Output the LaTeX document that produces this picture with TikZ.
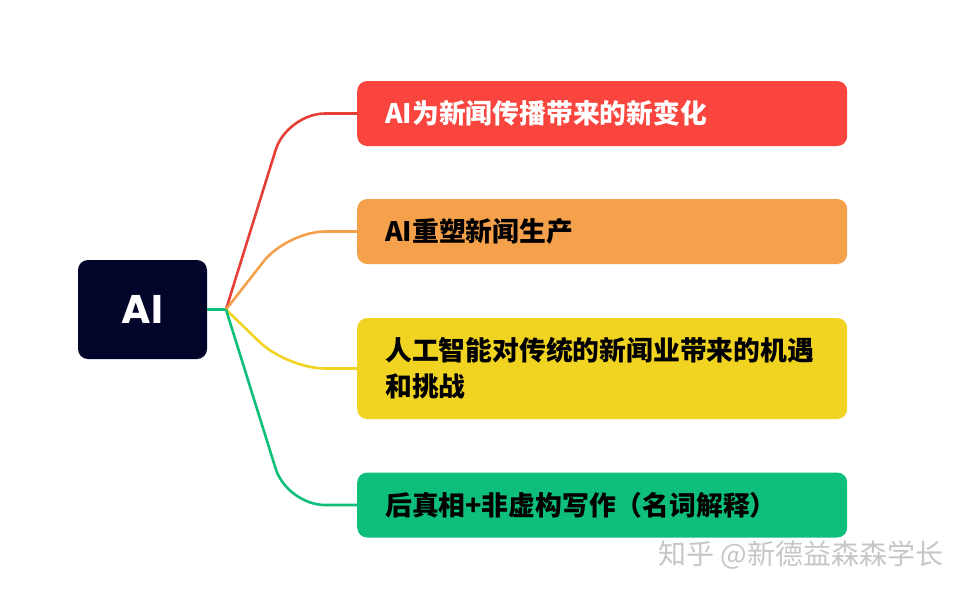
\documentclass[tikz,border=0pt]{standalone}
\usepackage{fontspec}
\newfontfamily\cjk{Noto Sans CJK SC}
\newfontfamily\rootfont{Poppins}
\usetikzlibrary{positioning}

\definecolor{rootbg}{HTML}{03042A}
\definecolor{redbox}{HTML}{F9453D}
\definecolor{orangebox}{HTML}{F5A04B}
\definecolor{yellowbox}{HTML}{F1D321}
\definecolor{greenbox}{HTML}{0DBF7A}

\begin{document}
\begin{tikzpicture}[x=1pt,y=-1pt,
    topic/.style={rounded corners=10pt, minimum width=490pt, minimum height=65pt,
      inner xsep=28pt, text width=434pt, align=left, anchor=west,
      font=\cjk\bfseries\fontsize{26.8}{36}\selectfont},
    branch/.style={line width=2.6pt, rounded corners=38pt}]

        \useasboundingbox (0,0) rectangle (973,595);

        % Central topic and the point where the branches split
        \node[fill=rootbg, rounded corners=10pt, minimum width=129pt, minimum height=99pt,
          text=white, font=\rootfont\bfseries\fontsize{40}{40}\selectfont] (root) at (142.5,309.5) {AI};
        \coordinate (hub) at (226,309.5);

        % Draw the four sub topics
        \node[topic, fill=redbox, text=white] (news) at (357,113.5) {AI为新闻传播带来的新变化};
        \node[topic, fill=orangebox] (prod) at (357,231.5) {AI重塑新闻生产};
        \node[topic, fill=yellowbox, minimum height=101pt] (chance) at (357,368.5) {人工智能对传统的新闻业带来的机遇\\和挑战};
        \node[topic, fill=greenbox] (post) at (357,505) {后真相+非虚构写作（名词解释）};

        % Draw the branches
        \draw[branch, greenbox] (root.east) -- (hub);
        \draw[branch, redbox!92!black] (hub) -- ([xshift=-70]news.west) -- (news.west);
        \draw[branch, orangebox] (hub) -- ([xshift=-70]prod.west) -- (prod.west);
        \draw[branch, yellowbox] (hub) -- ([xshift=-70]chance.west) -- (chance.west);
        \draw[branch, greenbox] (hub) -- ([xshift=-70]post.west) -- (post.west);

        % Watermark
        \node[text=gray!45, font=\cjk\fontsize{28}{28}\selectfont] (mark) at (801,555) {知乎 @新德益森森学长};

    \end{tikzpicture}
\end{document}
